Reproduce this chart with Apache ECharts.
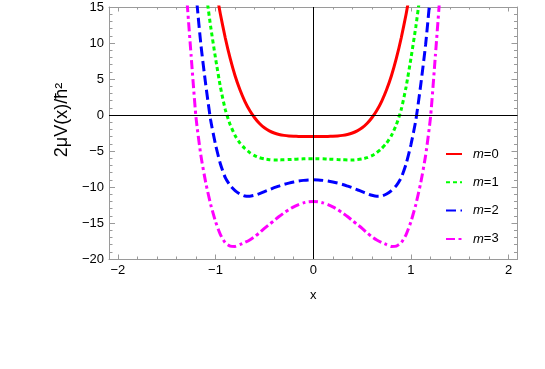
<!DOCTYPE html>
<html>
<head>
<meta charset="utf-8">
<script src="https://cdn.jsdelivr.net/npm/echarts@6/dist/echarts.min.js"></script>
<style>
html,body{margin:0;padding:0;background:#fff;}
#chart{width:545px;height:369px;}
</style>
</head>
<body>
<div id="chart"></div>
<script>
// ---- data ----
const seriesNames = ['m=0', 'm=1', 'm=2', 'm=3'];

const x0 = [-0.97,-0.95,-0.9,-0.85,-0.8,-0.75,-0.7,-0.65,-0.6,-0.55,-0.5,-0.45,-0.4,-0.35,-0.3,-0.25,-0.2,-0.15,-0.1,-0.05,
            0,
            0.05,0.1,0.15,0.2,0.25,0.3,0.35,0.4,0.45,0.5,0.55,0.6,0.65,0.7,0.75,0.8,0.85,0.9,0.95,0.97];
const v0 = [15.5,14.0,10.7,7.85,5.45,3.5,1.9,0.62,-0.38,-1.18,-1.78,-2.2,-2.5,-2.7,-2.83,-2.91,-2.95,-2.98,-2.99,-3.0,
            -3.0,
            -3.0,-2.99,-2.98,-2.95,-2.91,-2.83,-2.7,-2.5,-2.2,-1.78,-1.18,-0.38,0.62,1.9,3.5,5.45,7.85,10.7,14.0,15.5];

const x1 = [-1.08,-1.05,-1.0,-0.95,-0.9,-0.85,-0.8,-0.75,-0.7,-0.65,-0.6,-0.55,-0.5,-0.45,-0.4,-0.35,-0.3,-0.25,-0.2,-0.15,-0.1,-0.05,
            0,
            0.05,0.1,0.15,0.2,0.25,0.3,0.35,0.4,0.45,0.5,0.55,0.6,0.65,0.7,0.75,0.8,0.85,0.9,0.95,1.0,1.05,1.08];
const v1 = [15.3,12.3,7.9,3.9,0.75,-1.35,-2.85,-3.9,-4.65,-5.22,-5.65,-5.93,-6.1,-6.2,-6.25,-6.24,-6.22,-6.19,-6.15,-6.12,-6.09,-6.07,
            -6.07,
            -6.07,-6.09,-6.12,-6.15,-6.19,-6.22,-6.24,-6.25,-6.2,-6.1,-5.93,-5.65,-5.22,-4.65,-3.9,-2.85,-1.35,0.75,3.9,7.9,12.3,15.3];

const x2 = [-1.19,-1.15,-1.1,-1.05,-1.0,-0.95,-0.9,-0.85,-0.8,-0.75,-0.7,-0.65,-0.6,-0.55,-0.5,-0.45,-0.4,-0.35,-0.3,-0.25,-0.2,-0.15,-0.1,-0.05,
            0,
            0.05,0.1,0.15,0.2,0.25,0.3,0.35,0.4,0.45,0.5,0.55,0.6,0.65,0.7,0.75,0.8,0.85,0.9,0.95,1.0,1.05,1.1,1.15,1.19];
const v2 = [15.5,9.8,4.2,-0.7,-4.1,-6.8,-8.7,-9.8,-10.5,-10.98,-11.25,-11.28,-11.15,-10.92,-10.65,-10.38,-10.1,-9.87,-9.65,-9.46,-9.3,-9.17,-9.08,-9.02,
            -9.0,
            -9.02,-9.08,-9.17,-9.3,-9.46,-9.65,-9.87,-10.1,-10.38,-10.65,-10.92,-11.15,-11.28,-11.25,-10.98,-10.5,-9.8,-8.7,-6.8,-4.1,-0.7,4.2,9.8,15.5];

const x3 = [-1.29,-1.25,-1.2,-1.15,-1.1,-1.05,-1.0,-0.95,-0.9,-0.85,-0.8,-0.75,-0.7,-0.65,-0.6,-0.55,-0.5,-0.45,-0.4,-0.35,-0.3,-0.25,-0.2,-0.15,-0.1,-0.05,
            0,
            0.05,0.1,0.15,0.2,0.25,0.3,0.35,0.4,0.45,0.5,0.55,0.6,0.65,0.7,0.75,0.8,0.85,0.9,0.95,1.0,1.05,1.1,1.15,1.2,1.25,1.29];
const v3 = [15.5,8.3,-0.3,-5.6,-9.4,-12.4,-14.8,-16.6,-17.75,-18.2,-18.25,-18.0,-17.7,-17.35,-16.9,-16.35,-15.75,-15.2,-14.65,-14.1,-13.6,-13.15,-12.75,-12.45,-12.2,-12.05,
            -12.0,
            -12.05,-12.2,-12.45,-12.75,-13.15,-13.6,-14.1,-14.65,-15.2,-15.75,-16.35,-16.9,-17.35,-17.7,-18.0,-18.25,-18.2,-17.75,-16.6,-14.8,-12.4,-9.4,-5.6,-0.3,8.3,15.5];

const xMajorTicks = [-2, -1, 0, 1, 2];
const xMinorTicks = [-1.8,-1.6,-1.4,-1.2,-0.8,-0.6,-0.4,-0.2,0.2,0.4,0.6,0.8,1.2,1.4,1.6,1.8];
const yTickStep = 5;
const xLabel = 'x';
const yLabel = '2μV(x)/ħ²';

// ---- chart ----
const FONT = "'Liberation Sans', Arial, sans-serif";
const FRAME = '#9a9a9a';
const XMIN = -2.09, XMAX = 2.09, YMIN = -20, YMAX = 15;
const minus = v => String(v).replace('-', '\u2212');
const pairs = (xs, ys) => xs.map((x, i) => [x, ys[i]]);

function xAx(position, ticks, len, withLabel, showLine) {
  const a = {
    type: 'value', min: XMIN, max: XMAX, position: position,
    axisLine: { show: showLine, onZero: false, lineStyle: { color: FRAME, width: 1 } },
    axisTick: { show: true, inside: true, length: len, customValues: ticks, lineStyle: { color: FRAME, width: 1 } },
    axisLabel: { show: withLabel, customValues: ticks, formatter: minus, margin: 5,
                 color: '#000', fontSize: 13, fontFamily: FONT },
    splitLine: { show: false }
  };
  if (withLabel) {
    a.name = xLabel; a.nameLocation = 'middle'; a.nameGap = 30;
    a.nameTextStyle = { color: '#000', fontSize: 13, fontFamily: FONT };
  }
  return a;
}
function yAx(position, withLabel) {
  const a = {
    type: 'value', min: YMIN, max: YMAX, interval: yTickStep, position: position,
    axisLine: { show: true, onZero: false, lineStyle: { color: FRAME, width: 1 } },
    axisTick: { show: true, inside: true, length: 6, lineStyle: { color: FRAME, width: 1 } },
    minorTick: { show: true, splitNumber: 5, length: 3.5, lineStyle: { color: FRAME, width: 1 } },
    axisLabel: { show: withLabel, formatter: minus, margin: 5, color: '#000', fontSize: 13, fontFamily: FONT },
    splitLine: { show: false }, minorSplitLine: { show: false }
  };
  if (withLabel) {
    a.name = yLabel; a.nameLocation = 'middle'; a.nameGap = 36; a.nameRotate = 90;
    a.nameTextStyle = { color: '#000', fontSize: 18, fontFamily: FONT, padding: [0, 0, 0, 26] };
  }
  return a;
}

const styles = [
  { color: '#ff0000', type: 'solid' },
  { color: '#00ff00', type: [4, 3] },
  { color: '#0000ff', type: [10, 4.5] },
  { color: '#ff00ff', type: [9, 3.5, 3, 3.5] }
];
const datasets = [pairs(x0, v0), pairs(x1, v1), pairs(x2, v2), pairs(x3, v3)];

const series = [{
  name: 'axes', type: 'line', data: [], z: 1, silent: true,
  markLine: {
    silent: true, symbol: 'none', animation: false,
    label: { show: false },
    lineStyle: { color: '#000', width: 1, type: 'solid' },
    data: [{ xAxis: 0 }, { yAxis: 0 }]
  }
}];
seriesNames.forEach((n, i) => {
  series.push({
    name: n, type: 'line', data: datasets[i], xAxisIndex: 0, yAxisIndex: 0,
    symbol: 'none', showSymbol: false, smooth: 0.2, clip: true, z: 3,
    lineStyle: { color: styles[i].color, width: 3, type: styles[i].type, cap: 'butt' },
    itemStyle: { color: styles[i].color }
  });
});

const chart = echarts.init(document.getElementById('chart'), null, { renderer: 'canvas' });
chart.setOption({
  animation: false,
  backgroundColor: '#fff',
  grid: { left: 109, right: 27.5, top: 7, bottom: 110, containLabel: false },
  xAxis: [
    xAx('bottom', xMajorTicks, 4.5, true, true),
    xAx('bottom', xMinorTicks, 2.5, false, false),
    xAx('top', xMajorTicks, 4.5, false, true),
    xAx('top', xMinorTicks, 2.5, false, false)
  ],
  yAxis: [yAx('left', true), yAx('right', false)],
  legend: {
    data: seriesNames, orient: 'vertical', left: 445, top: 147, padding: 0,
    itemWidth: 16, itemHeight: 14, itemGap: 14.3,
    itemStyle: { opacity: 0 },
    formatter: n => '{it|m}' + n.slice(1),
    textStyle: {
      color: '#000', fontSize: 13, fontFamily: FONT, lineHeight: 14, padding: [0, 0, 0, 6],
      rich: { it: { fontStyle: 'italic', fontSize: 13, fontFamily: FONT, color: '#000' } }
    }
  },
  series: series
});
</script>
</body>
</html>
